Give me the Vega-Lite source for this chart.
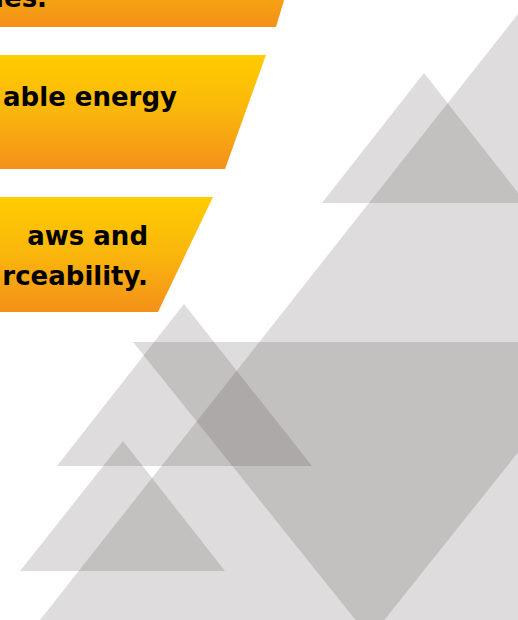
{
  "$schema": "https://vega.github.io/schema/vega-lite/v6.json",
  "width": 518,
  "height": 620,
  "autosize": {"type": "fit", "contains": "padding"},
  "padding": 0,
  "background": "white",
  "config": {"view": {"stroke": null}},
  "datasets": {
    "tris": [
      {"s": "t1", "x": 322, "y": 203, "y2": 203},
      {"s": "t1", "x": 424, "y": 73, "y2": 203},
      {"s": "t1", "x": 526, "y": 203, "y2": 203},
      {"s": "big", "x": 40, "y": 620, "y2": 620},
      {"s": "big", "x": 518, "y": 14, "y2": 620},
      {"s": "inv", "x": 133, "y": 342, "y2": 342},
      {"s": "inv", "x": 370, "y": 342, "y2": 638},
      {"s": "inv", "x": 606, "y": 342, "y2": 342},
      {"s": "t4", "x": 57, "y": 466, "y2": 466},
      {"s": "t4", "x": 184, "y": 304, "y2": 466},
      {"s": "t4", "x": 312, "y": 466, "y2": 466},
      {"s": "t5", "x": 20, "y": 571, "y2": 571},
      {"s": "t5", "x": 123, "y": 441, "y2": 571},
      {"s": "t5", "x": 225, "y": 571, "y2": 571}
    ],
    "banners": [
      {"b": "b1", "x": 0, "y": -90, "y2": 27},
      {"b": "b1", "x": 276, "y": -90, "y2": 27},
      {"b": "b1", "x": 311, "y": -90, "y2": -90},
      {"b": "b2", "x": 0, "y": 55, "y2": 169},
      {"b": "b2", "x": 225, "y": 55, "y2": 169},
      {"b": "b2", "x": 266, "y": 55, "y2": 55},
      {"b": "b3", "x": 0, "y": 197, "y2": 312},
      {"b": "b3", "x": 158, "y": 197, "y2": 312},
      {"b": "b3", "x": 213, "y": 197, "y2": 197}
    ],
    "labels": [
      {"t": "ies.", "x": 47, "y": 7},
      {"t": "able energy", "x": 177, "y": 106},
      {"t": "aws and", "x": 148, "y": 245},
      {"t": "rceability.", "x": 148, "y": 285}
    ]
  },
  "layer": [
    {
      "data": {"name": "tris"},
      "mark": {"type": "area", "clip": true, "fill": "#58524E", "fillOpacity": 0.2, "opacity": 1},
      "encoding": {
        "x": {"field": "x", "type": "quantitative", "scale": {"domain": [0, 518], "nice": false, "zero": false}, "axis": null},
        "y": {"field": "y", "type": "quantitative", "scale": {"domain": [0, 620], "reverse": true, "nice": false, "zero": false}, "axis": null},
        "y2": {"field": "y2"},
        "detail": {"field": "s", "type": "nominal"}
      }
    },
    {
      "data": {"name": "banners"},
      "mark": {
        "type": "area",
        "clip": true,
        "opacity": 1,
        "fill": {
          "gradient": "linear",
          "x1": 0, "y1": 0, "x2": 0, "y2": 1,
          "stops": [
            {"offset": 0, "color": "#FFCC00"},
            {"offset": 0.5, "color": "#FAB60C"},
            {"offset": 1, "color": "#F39019"}
          ]
        }
      },
      "encoding": {
        "x": {"field": "x", "type": "quantitative", "scale": {"domain": [0, 518], "nice": false, "zero": false}, "axis": null},
        "y": {"field": "y", "type": "quantitative", "scale": {"domain": [0, 620], "reverse": true, "nice": false, "zero": false}, "axis": null},
        "y2": {"field": "y2"},
        "detail": {"field": "b", "type": "nominal"}
      }
    },
    {
      "data": {"name": "labels"},
      "mark": {"type": "text", "clip": true, "align": "right", "baseline": "alphabetic", "font": "DejaVu Sans", "fontWeight": "bold", "fontSize": 26, "color": "#000000"},
      "encoding": {
        "x": {"field": "x", "type": "quantitative", "scale": {"domain": [0, 518], "nice": false, "zero": false}, "axis": null},
        "y": {"field": "y", "type": "quantitative", "scale": {"domain": [0, 620], "reverse": true, "nice": false, "zero": false}, "axis": null},
        "text": {"field": "t", "type": "nominal"}
      }
    }
  ]
}
